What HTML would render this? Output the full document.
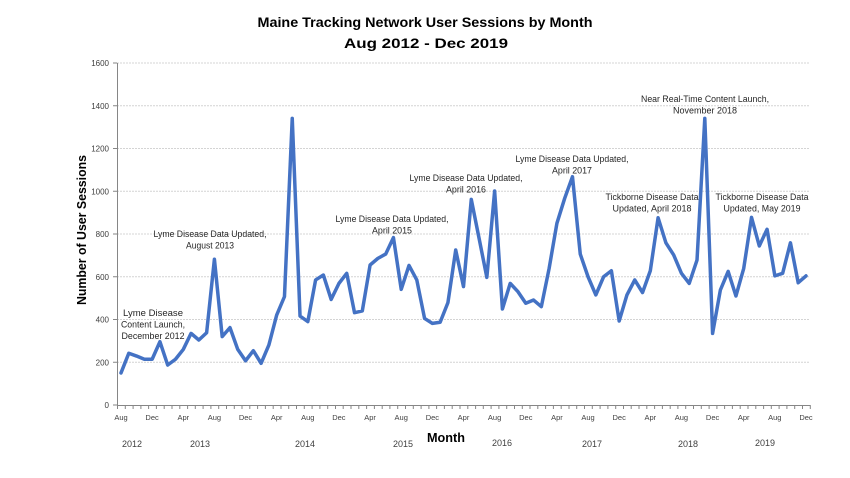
<!DOCTYPE html>
<html>
<head>
<meta charset="utf-8">
<style>
  html,body{margin:0;padding:0;background:#fff;}
  svg{display:block;}
  text{font-family:"Liberation Sans",sans-serif;}
</style>
</head>
<body>
<svg width="850" height="478" viewBox="0 0 850 478" xmlns="http://www.w3.org/2000/svg">
  <rect width="850" height="478" fill="#fff"/>
  <!-- Title -->
  <text x="425" y="27" text-anchor="middle" font-size="14" font-weight="bold" fill="#000" textLength="335" lengthAdjust="spacingAndGlyphs">Maine Tracking Network User Sessions by Month</text>
  <text x="426" y="48" text-anchor="middle" font-size="14" font-weight="bold" fill="#000" textLength="164" lengthAdjust="spacingAndGlyphs">Aug 2012 - Dec 2019</text>

  <!-- gridlines -->
  <g stroke="#d4d4d4" stroke-width="1" stroke-dasharray="2,1">
    <line x1="117" y1="362.25" x2="810" y2="362.25"/>
    <line x1="117" y1="319.5" x2="810" y2="319.5"/>
    <line x1="117" y1="276.75" x2="810" y2="276.75"/>
    <line x1="117" y1="234" x2="810" y2="234"/>
    <line x1="117" y1="191.25" x2="810" y2="191.25"/>
    <line x1="117" y1="148.5" x2="810" y2="148.5"/>
    <line x1="117" y1="105.75" x2="810" y2="105.75"/>
    <line x1="117" y1="63" x2="810" y2="63"/>
  </g>

  <!-- axes -->
  <g stroke="#868686" stroke-width="1">
    <line x1="117.5" y1="63" x2="117.5" y2="405"/>
    <line x1="117" y1="405.5" x2="810" y2="405.5"/>
    <!-- y ticks -->
    <line x1="113" y1="405" x2="117" y2="405"/>
    <line x1="113" y1="362.25" x2="117" y2="362.25"/>
    <line x1="113" y1="319.5" x2="117" y2="319.5"/>
    <line x1="113" y1="276.75" x2="117" y2="276.75"/>
    <line x1="113" y1="234" x2="117" y2="234"/>
    <line x1="113" y1="191.25" x2="117" y2="191.25"/>
    <line x1="113" y1="148.5" x2="117" y2="148.5"/>
    <line x1="113" y1="105.75" x2="117" y2="105.75"/>
    <line x1="113" y1="63" x2="117" y2="63"/>
  </g>
  <!-- x ticks every month -->
  <path stroke="#868686" stroke-width="1" fill="none" d="
M117.5 405v4M125.3 405v4M133.1 405v4M140.9 405v4M148.6 405v4M156.4 405v4M164.2 405v4M172 405v4M179.8 405v4M187.6 405v4
M195.3 405v4M203.1 405v4M210.9 405v4M218.7 405v4M226.5 405v4M234.3 405v4M242 405v4M249.8 405v4M257.6 405v4M265.4 405v4
M273.2 405v4M281 405v4M288.7 405v4M296.5 405v4M304.3 405v4M312.1 405v4M319.9 405v4M327.7 405v4M335.5 405v4M343.2 405v4
M351 405v4M358.8 405v4M366.6 405v4M374.4 405v4M382.2 405v4M389.9 405v4M397.7 405v4M405.5 405v4M413.3 405v4M421.1 405v4
M428.9 405v4M436.6 405v4M444.4 405v4M452.2 405v4M460 405v4M467.8 405v4M475.6 405v4M483.3 405v4M491.1 405v4M498.9 405v4
M506.7 405v4M514.5 405v4M522.3 405v4M530 405v4M537.8 405v4M545.6 405v4M553.4 405v4M561.2 405v4M569 405v4M576.7 405v4
M584.5 405v4M592.3 405v4M600.1 405v4M607.9 405v4M615.7 405v4M623.5 405v4M631.2 405v4M639 405v4M646.8 405v4M654.6 405v4
M662.4 405v4M670.2 405v4M677.9 405v4M685.7 405v4M693.5 405v4M701.3 405v4M709.1 405v4M716.9 405v4M724.6 405v4M732.4 405v4
M740.2 405v4M748 405v4M755.8 405v4M763.6 405v4M771.3 405v4M779.1 405v4M786.9 405v4M794.7 405v4M802.5 405v4M810.3 405v4"/>

  <!-- y tick labels -->
  <g font-size="8" fill="#404040" text-anchor="end">
    <text x="109" y="408">0</text>
    <text x="109" y="365.25">200</text>
    <text x="109" y="322.5">400</text>
    <text x="109" y="279.75">600</text>
    <text x="109" y="237">800</text>
    <text x="109" y="194.25">1000</text>
    <text x="109" y="151.5">1200</text>
    <text x="109" y="108.75">1400</text>
    <text x="109" y="66">1600</text>
  </g>

  <!-- x tick labels -->
  <g font-size="7.5" fill="#404040" text-anchor="middle">
    <text x="121" y="420">Aug</text>
    <text x="152.1" y="420">Dec</text>
    <text x="183.3" y="420">Apr</text>
    <text x="214.4" y="420">Aug</text>
    <text x="245.5" y="420">Dec</text>
    <text x="276.7" y="420">Apr</text>
    <text x="307.8" y="420">Aug</text>
    <text x="338.9" y="420">Dec</text>
    <text x="370.1" y="420">Apr</text>
    <text x="401.2" y="420">Aug</text>
    <text x="432.4" y="420">Dec</text>
    <text x="463.5" y="420">Apr</text>
    <text x="494.6" y="420">Aug</text>
    <text x="525.8" y="420">Dec</text>
    <text x="556.9" y="420">Apr</text>
    <text x="588" y="420">Aug</text>
    <text x="619.2" y="420">Dec</text>
    <text x="650.3" y="420">Apr</text>
    <text x="681.4" y="420">Aug</text>
    <text x="712.6" y="420">Dec</text>
    <text x="743.7" y="420">Apr</text>
    <text x="774.8" y="420">Aug</text>
    <text x="806" y="420">Dec</text>
  </g>

  <!-- year labels -->
  <g font-size="9" fill="#404040" text-anchor="middle">
    <text x="132" y="447">2012</text>
    <text x="200" y="447">2013</text>
    <text x="305" y="447">2014</text>
    <text x="403" y="447">2015</text>
    <text x="502" y="446">2016</text>
    <text x="592" y="447">2017</text>
    <text x="688" y="447">2018</text>
    <text x="765" y="446">2019</text>
  </g>

  <!-- axis titles -->
  <text x="446" y="442" text-anchor="middle" font-size="13" font-weight="bold" fill="#000" textLength="38" lengthAdjust="spacingAndGlyphs">Month</text>
  <text transform="translate(86,230) rotate(-90)" text-anchor="middle" font-size="13" font-weight="bold" fill="#000" textLength="150" lengthAdjust="spacingAndGlyphs">Number of User Sessions</text>

  <!-- data line -->
  <g transform="translate(121,405) scale(7.784,-0.21375)">
    <polyline fill="none" stroke="#4472C4" stroke-width="3.5" stroke-linejoin="round" stroke-linecap="round" vector-effect="non-scaling-stroke"
      points="0,150 1,242 2,229 3,214 4,214 5,296 6,187 7,214 8,260 9,335 10,304 11,338 12,682 13,320 14,362 15,260 16,207 17,254 18,195 19,281 20,421 21,507 22,1341 23,416 24,390 25,585 26,608 27,494 28,569 29,616 30,432 31,440 32,655 33,686 34,706 35,783 36,541 37,653 38,585 39,405 40,382 41,387 42,479 43,725 44,554 45,962 46,780 47,597 48,1001 49,449 50,569 51,530 52,476 53,491 54,460 55,639 56,850 57,967 58,1068 59,706 60,600 61,515 62,600 63,628 64,393 65,515 66,585 67,526 68,628 69,876 70,759 71,702 72,616 73,569 74,678 75,1341 76,335 77,538 78,625 79,510 80,639 81,878 82,744 83,822 84,604 85,616 86,759 87,572 88,604"/>
  </g>

  <!-- annotations -->
  <g font-size="9" fill="#262626" text-anchor="middle">
    <text x="153" y="316" textLength="60" lengthAdjust="spacingAndGlyphs">Lyme Disease</text>
    <text x="153" y="327.5" textLength="64" lengthAdjust="spacingAndGlyphs">Content Launch,</text>
    <text x="153" y="339" textLength="63" lengthAdjust="spacingAndGlyphs">December 2012</text>

    <text x="210" y="237" textLength="113" lengthAdjust="spacingAndGlyphs">Lyme Disease Data Updated,</text>
    <text x="210" y="248.5" textLength="48" lengthAdjust="spacingAndGlyphs">August 2013</text>

    <text x="392" y="222" textLength="113" lengthAdjust="spacingAndGlyphs">Lyme Disease Data Updated,</text>
    <text x="392" y="233.5" textLength="40" lengthAdjust="spacingAndGlyphs">April 2015</text>

    <text x="466" y="181" textLength="113" lengthAdjust="spacingAndGlyphs">Lyme Disease Data Updated,</text>
    <text x="466" y="192.5" textLength="40" lengthAdjust="spacingAndGlyphs">April 2016</text>

    <text x="572" y="162" textLength="113" lengthAdjust="spacingAndGlyphs">Lyme Disease Data Updated,</text>
    <text x="572" y="173.5" textLength="40" lengthAdjust="spacingAndGlyphs">April 2017</text>

    <text x="652" y="200" textLength="93" lengthAdjust="spacingAndGlyphs">Tickborne Disease Data</text>
    <text x="652" y="211.5" textLength="79" lengthAdjust="spacingAndGlyphs">Updated, April 2018</text>

    <text x="705" y="102" textLength="128" lengthAdjust="spacingAndGlyphs">Near Real-Time Content Launch,</text>
    <text x="705" y="113.5" textLength="64" lengthAdjust="spacingAndGlyphs">November 2018</text>

    <text x="762" y="200" textLength="93" lengthAdjust="spacingAndGlyphs">Tickborne Disease Data</text>
    <text x="762" y="211.5" textLength="77" lengthAdjust="spacingAndGlyphs">Updated, May 2019</text>
  </g>
</svg>
</body>
</html>
